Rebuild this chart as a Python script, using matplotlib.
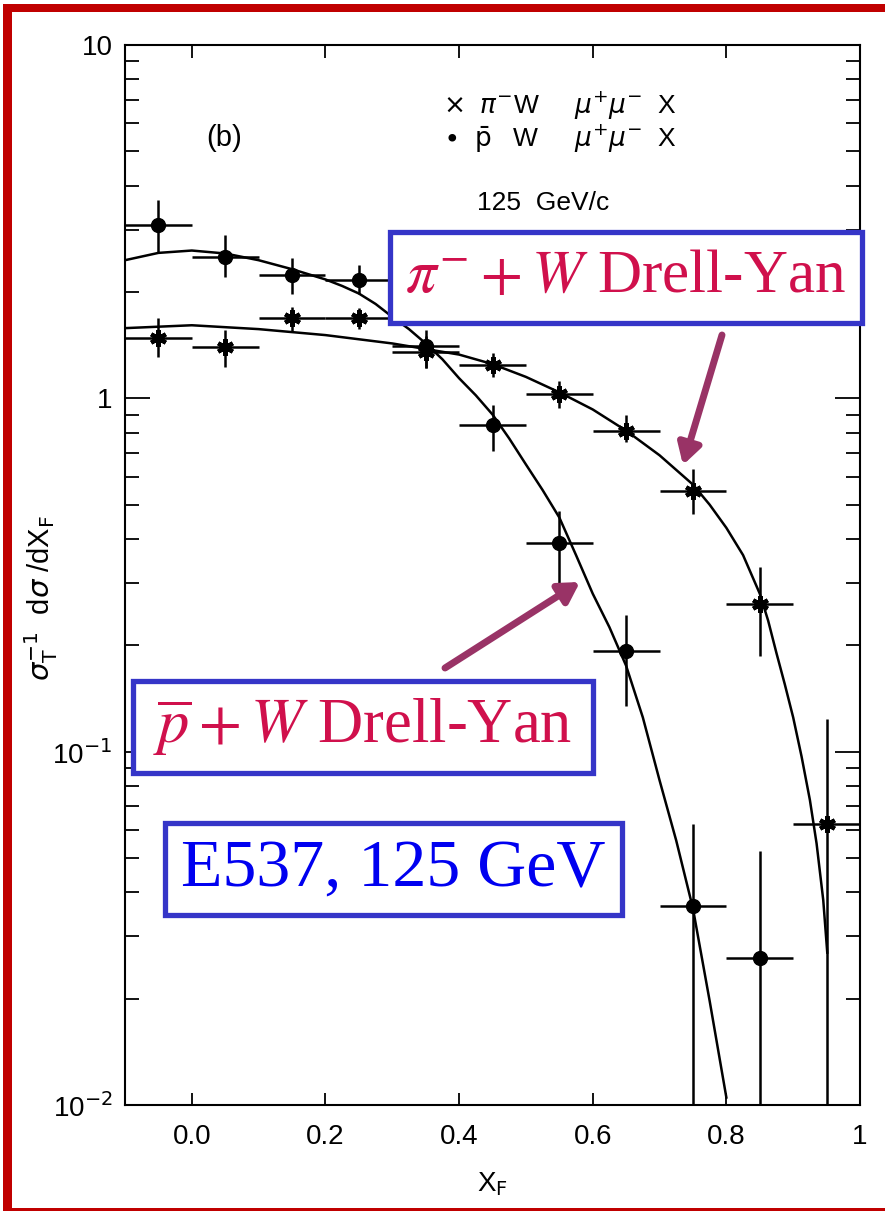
import numpy as np
import matplotlib
matplotlib.use("Agg")
import matplotlib.pyplot as plt
from matplotlib.patches import Rectangle

plt.rcParams['font.family'] = ['Liberation Sans', 'DejaVu Sans']
plt.rcParams['mathtext.fontset'] = 'stix'

# x_F bin centres
xf = [-0.05, 0.05, 0.15, 0.25, 0.35, 0.45, 0.55, 0.65, 0.75, 0.85, 0.95]

# pbar W -> mu+ mu- X
pbar_x = xf[:10]
pbar_y = [3.09, 2.52, 2.23, 2.16, 1.41, 0.84, 0.39, 0.193, 0.0366, 0.026]
pbar_hi = [3.64, 2.90, 2.50, 2.38, 1.56, 0.955, 0.48, 0.243, 0.0625, 0.0525]
pbar_lo = [2.58, 2.20, 1.98, 1.98, 1.22, 0.71, 0.30, 0.135, 0.001, 0.001]

# pi- W -> mu+ mu- X
pi_x = xf
pi_y = [1.48, 1.40, 1.69, 1.69, 1.35, 1.24, 1.03, 0.81, 0.548, 0.262, 0.0625]
pi_hi = [1.69, 1.56, 1.81, 1.80, 1.50, 1.34, 1.12, 0.895, 0.63, 0.333, 0.124]
pi_lo = [1.31, 1.23, 1.54, 1.57, 1.22, 1.15, 0.94, 0.75, 0.47, 0.187, 0.001]

# fitted curves
pbar_fit_x = [-0.10, -0.05, 0.0, 0.05, 0.10, 0.15, 0.20, 0.225, 0.25, 0.275, 0.30,
              0.325, 0.35, 0.375, 0.40, 0.425, 0.45, 0.475, 0.50, 0.525, 0.55,
              0.575, 0.60, 0.625, 0.65, 0.675, 0.70, 0.725, 0.75, 0.775, 0.80]
pbar_fit_y = [2.46, 2.58, 2.62, 2.57, 2.46, 2.32, 2.17, 2.08, 1.98, 1.85, 1.70,
              1.57, 1.43, 1.29, 1.14, 1.02, 0.90, 0.77, 0.65, 0.55, 0.46,
              0.36, 0.28, 0.225, 0.175, 0.125, 0.083, 0.056, 0.036, 0.0197, 0.0105]
pi_fit_x = [-0.10, 0.0, 0.10, 0.20, 0.30, 0.40, 0.45, 0.50, 0.55, 0.60, 0.65, 0.70,
            0.75, 0.775, 0.80, 0.825, 0.85, 0.8625, 0.875, 0.8875, 0.90, 0.9125,
            0.925, 0.935, 0.945, 0.951]
pi_fit_y = [1.58, 1.61, 1.57, 1.51, 1.43, 1.33, 1.25, 1.15, 1.04, 0.93, 0.81, 0.69,
            0.57, 0.50, 0.43, 0.36, 0.28, 0.235, 0.19, 0.155, 0.125, 0.097,
            0.073, 0.055, 0.038, 0.027]

xticks = [0.0, 0.2, 0.4, 0.6, 0.8, 1.0]
xticklabels = ['0.0', '0.2', '0.4', '0.6', '0.8', '1']
yticks = [0.01, 0.1, 1, 10]
yticklabels = [r'10$^{-2}$', r'10$^{-1}$', '1', '10']

W, H = 885, 1211
fig = plt.figure(figsize=(W / 100, H / 100), dpi=100)
ax = fig.add_axes([125 / W, 1 - 1105 / H, 735 / W, 1060 / H])

ax.plot(pbar_fit_x, pbar_fit_y, color='black', lw=1.8)
ax.plot(pi_fit_x, pi_fit_y, color='black', lw=1.8)

pbar_err = [np.array(pbar_y) - np.array(pbar_lo), np.array(pbar_hi) - np.array(pbar_y)]
pi_err = [np.array(pi_y) - np.array(pi_lo), np.array(pi_hi) - np.array(pi_y)]
ax.errorbar(pbar_x, pbar_y, yerr=pbar_err, xerr=0.05, fmt='o', color='black',
            ms=10, elinewidth=1.8, capsize=0)
ax.errorbar(pi_x, pi_y, yerr=pi_err, xerr=0.05, fmt='none', ecolor='black',
            elinewidth=1.8, capsize=0)
ax.plot(pi_x, pi_y, ls='none', marker=(6, 2, 0), color='black', ms=12, mew=3)

ax.set_yscale('log')
ax.set_xlim(-0.1, 1.0)
ax.set_ylim(0.01, 10)
ax.set_xticks(xticks)
ax.set_xticklabels(xticklabels, fontsize=20)
ax.set_yticks(yticks)
ax.set_yticklabels(yticklabels, fontsize=20, math_fontfamily='dejavusans')
ax.yaxis.set_minor_locator(matplotlib.ticker.LogLocator(base=10, subs=np.arange(2, 10)))
ax.yaxis.set_minor_formatter(matplotlib.ticker.NullFormatter())
ax.tick_params(which='major', axis='y', direction='in', length=18, width=1.3,
               left=True, right=True, pad=9)
ax.tick_params(which='minor', axis='y', direction='in', length=10, width=1.3,
               left=True, right=True)
ax.tick_params(axis='x', direction='in', length=9, width=1.3, top=True, pad=14)
for s in ax.spines.values():
    s.set_linewidth(1.5)

ax.set_xlabel(r'X$_{\rm F}$', fontsize=20, labelpad=14, math_fontfamily='dejavusans')
ax.set_ylabel(r'$\sigma_{\rm T}^{-1}$  d$\sigma$ /dX$_{\rm F}$', fontsize=21,
              math_fontfamily='dejavusans')
ax.yaxis.set_label_coords(-0.088, 0.478)

# panel label and legend text
ax.text(0.11, 0.905, '(b)', transform=ax.transAxes, fontsize=21)
fig.text(443 / W, 1 - 106 / H, r'$\times$  $\pi^{-}$W     $\mu^{+}\mu^{-}$  X',
         fontsize=19, va='center', math_fontfamily='dejavusans')
fig.text(443 / W, 1 - 139 / H, r'$\bullet$  $\bar{\rm p}$   W     $\mu^{+}\mu^{-}$  X',
         fontsize=19, va='center', math_fontfamily='dejavusans')
fig.text(477 / W, 1 - 203 / H, '125  GeV/c', fontsize=19, va='center')

# annotation boxes
box_blue = '#3535C8'
red_txt = '#D0104C'
boxes = [
    ((390, 232, 862, 323), r'$\pi^{-}+W$ Drell-Yan', red_txt, 44),
    ((133, 681, 593, 773), r'$\overline{p}+W$ Drell-Yan', red_txt, 45),
    ((165, 823, 622, 915), 'E537, 125 GeV', '#0000F0', 49),
]
for (x0, y0, x1, y1), label, col, fs in boxes:
    fig.patches.append(Rectangle((x0 / W, 1 - y1 / H), (x1 - x0) / W, (y1 - y0) / H,
                                 transform=fig.transFigure, facecolor='white',
                                 edgecolor=box_blue, lw=3.8, zorder=5))
    fig.text((x0 + x1) / 2 / W, 1 - (y0 + y1) / 2 / H, label, color=col, fontsize=fs,
             ha='center', va='center', family='Liberation Serif', zorder=6)

arrow_col = '#993366'
for (tx, ty), (hx, hy) in [((722, 335), (683, 465)), ((445, 668), (580, 582))]:
    ax.annotate('', xy=(hx, H - hy), xycoords='figure pixels',
                xytext=(tx, H - ty), textcoords='figure pixels',
                arrowprops=dict(arrowstyle='-|>,head_length=1.2,head_width=0.7',
                                color=arrow_col, lw=5, shrinkA=0, shrinkB=0))

# red frame
red = '#C00000'
fig.patches.append(Rectangle((3 / W, 0), 9 / W, 1 - 4 / H, transform=fig.transFigure,
                             facecolor=red, edgecolor='none'))
fig.patches.append(Rectangle((3 / W, 1 - 12 / H), 1 - 3 / W, 8 / H, transform=fig.transFigure,
                             facecolor=red, edgecolor='none'))
fig.patches.append(Rectangle((3 / W, 0), 1 - 3 / W, 3 / H, transform=fig.transFigure,
                             facecolor=red, edgecolor='none'))

fig.savefig('out.png', dpi=100)
